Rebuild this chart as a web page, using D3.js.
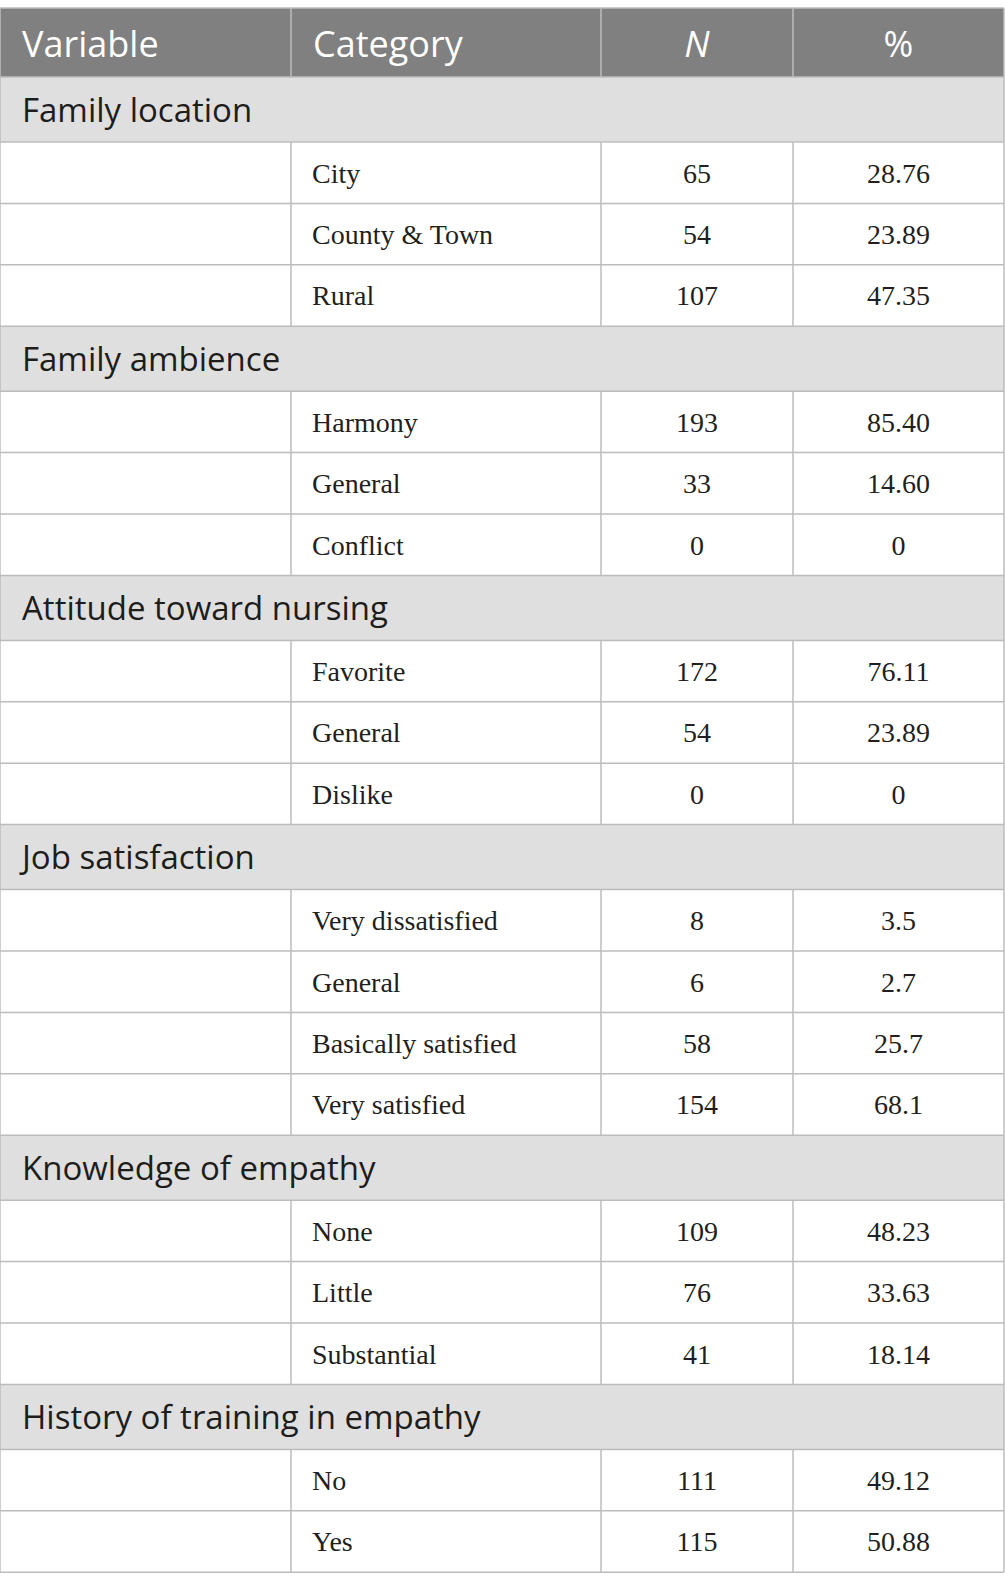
<!DOCTYPE html>
<html>
<head>
<meta charset="utf-8">
<script src="https://cdn.jsdelivr.net/npm/d3@7"></script>
<style>
  body { margin: 0; background: #fff; }
</style>
</head>
<body>
<div id="chart"></div>
<script>
// Table content
const headers = ["Variable", "Category", "N", "%"];
const groups = ["Family location", "Family ambience", "Attitude toward nursing",
  "Job satisfaction", "Knowledge of empathy", "History of training in empathy"];
const categories = [
  ["City", "County & Town", "Rural"],
  ["Harmony", "General", "Conflict"],
  ["Favorite", "General", "Dislike"],
  ["Very dissatisfied", "General", "Basically satisfied", "Very satisfied"],
  ["None", "Little", "Substantial"],
  ["No", "Yes"]
];
const counts = [
  ["65", "54", "107"],
  ["193", "33", "0"],
  ["172", "54", "0"],
  ["8", "6", "58", "154"],
  ["109", "76", "41"],
  ["111", "115"]
];
const percents = [
  ["28.76", "23.89", "47.35"],
  ["85.40", "14.60", "0"],
  ["76.11", "23.89", "0"],
  ["3.5", "2.7", "25.7", "68.1"],
  ["48.23", "33.63", "18.14"],
  ["49.12", "50.88"]
];

const width = 1005, height = 1591;
const top0 = 8, headH = 69, groupH = 65, rowH = 61.4;
const colEdges = [0, 291, 601, 793, 1004];
const border = "#bcbcbc";

// build row list
const rows = [];
let y = top0 + headH;
groups.forEach((g, gi) => {
  rows.push({type: "group", label: g, y: y, h: groupH});
  y += groupH;
  categories[gi].forEach((c, ci) => {
    rows.push({type: "data", cells: ["", c, counts[gi][ci], percents[gi][ci]], y: y, h: rowH});
    y += rowH;
  });
});
const bottom = y;

const x = d3.scaleOrdinal().domain(d3.range(4)).range(colEdges.slice(0, 4));
const colW = i => colEdges[i + 1] - colEdges[i];

const svg = d3.select("#chart")
  .append("svg")
  .attr("width", width)
  .attr("height", height);

// Header
svg.append("rect")
  .attr("x", 0).attr("y", top0)
  .attr("width", colEdges[4]).attr("height", headH)
  .attr("fill", "#808080");

svg.selectAll("text.head")
  .data(headers)
  .enter()
  .append("text")
  .attr("class", "head")
  .attr("x", (d, i) => i < 2 ? x(i) + 22 : x(i) + colW(i) / 2)
  .attr("y", top0 + headH / 2 + 14)
  .attr("text-anchor", (d, i) => i < 2 ? "start" : "middle")
  .attr("font-family", "'Open Sans', sans-serif")
  .attr("font-size", 36)
  .attr("font-style", d => d === "N" ? "italic" : "normal")
  .attr("fill", "#fff")
  .text(d => d);

// Group rows background
const groupRows = rows.filter(r => r.type === "group");
svg.selectAll("rect.grp")
  .data(groupRows)
  .enter()
  .append("rect")
  .attr("class", "grp")
  .attr("x", 0).attr("y", d => d.y)
  .attr("width", colEdges[4]).attr("height", d => d.h)
  .attr("fill", "#e0dfe0");

svg.selectAll("text.grp")
  .data(groupRows)
  .enter()
  .append("text")
  .attr("class", "grp")
  .attr("x", 22)
  .attr("y", d => d.y + d.h / 2 + 12)
  .attr("font-family", "'Open Sans', sans-serif")
  .attr("font-size", 33)
  .attr("fill", "#1d1d1b")
  .text(d => d.label);

// Data rows
const dataRows = rows.filter(r => r.type === "data");
const rowG = svg.selectAll("g.row")
  .data(dataRows)
  .enter()
  .append("g")
  .attr("class", "row")
  .attr("transform", d => "translate(0," + d.y + ")");

rowG.selectAll("text")
  .data(d => d.cells.map((v, i) => ({v: v, i: i, h: d.h})))
  .enter()
  .append("text")
  .attr("x", d => d.i === 1 ? x(1) + 21 : x(d.i) + colW(d.i) / 2)
  .attr("y", d => d.h / 2 + 10)
  .attr("text-anchor", d => d.i === 1 ? "start" : "middle")
  .attr("font-family", "'Liberation Serif', 'Times New Roman', serif")
  .attr("font-size", 28)
  .attr("fill", "#231f20")
  .text(d => d.v);

// Borders: horizontal lines
const hLines = [top0, top0 + headH].concat(rows.map(r => r.y + r.h));
svg.selectAll("line.h")
  .data(hLines)
  .enter()
  .append("line")
  .attr("x1", 0).attr("x2", colEdges[4])
  .attr("y1", d => d).attr("y2", d => d)
  .attr("stroke", border).attr("stroke-width", 1.5);

// vertical lines in header and data rows
const vSegs = [];
[1, 2, 3].forEach(i => vSegs.push({x: colEdges[i], y1: top0, y2: top0 + headH}));
dataRows.forEach(r => [1, 2, 3].forEach(i => vSegs.push({x: colEdges[i], y1: r.y, y2: r.y + r.h})));
[0, 4].forEach(i => vSegs.push({x: colEdges[i], y1: top0, y2: bottom}));
svg.selectAll("line.v")
  .data(vSegs)
  .enter()
  .append("line")
  .attr("x1", d => d.x).attr("x2", d => d.x)
  .attr("y1", d => d.y1).attr("y2", d => d.y2)
  .attr("stroke", border).attr("stroke-width", 1.5);
</script>
</body>
</html>
